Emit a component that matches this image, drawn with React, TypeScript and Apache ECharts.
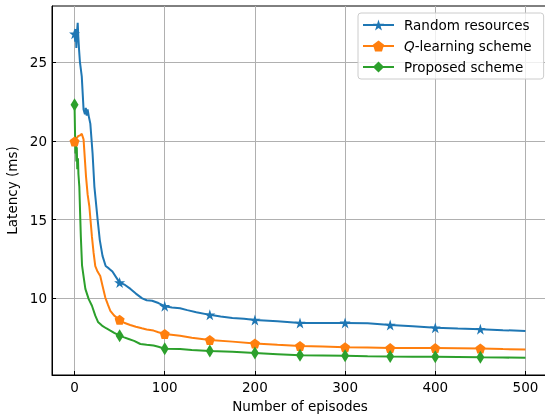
import React, { useEffect, useRef } from "react";
import * as echarts from "echarts";

const randomX = [0, 0.7, 1.3, 2, 2.7, 3.5, 4.2, 5, 6, 8, 10, 11.5, 12.5, 13.5, 14.5, 16, 17.5, 20, 22, 25.6, 28, 31, 34.5, 38, 42, 46, 50, 56, 62, 68, 75, 80, 86, 93, 100, 108, 117, 125, 135, 150, 162, 175, 188, 200, 225, 250, 275, 300, 325, 350, 375, 400, 425, 450, 475, 500];
const randomY = [26.8, 26.3, 27.1, 25.9, 26.9, 27.5, 26.6, 25.8, 25.0, 24.1, 22.0, 21.7, 22.1, 21.6, 22.0, 21.5, 21.1, 19.2, 17.1, 15.0, 13.7, 12.7, 12.05, 11.9, 11.7, 11.35, 11.0, 10.85, 10.6, 10.3, 10.0, 9.88, 9.85, 9.7, 9.5, 9.42, 9.37, 9.25, 9.12, 8.95, 8.85, 8.75, 8.7, 8.62, 8.55, 8.43, 8.43, 8.44, 8.42, 8.3, 8.22, 8.13, 8.08, 8.04, 7.98, 7.93];

const qlearnX = [0, 2, 4, 6, 8, 10, 12.7, 14.5, 16.4, 19.3, 21.1, 23, 25.5, 28.5, 31, 34.1, 37, 39.7, 44, 50, 55, 61.7, 68, 74.6, 80, 87.6, 93, 100, 117, 130, 150, 175, 200, 225, 250, 275, 300, 325, 350, 375, 400, 425, 450, 475, 500];
const qlearnY = [19.96, 20.15, 20.3, 20.35, 20.45, 20.1, 17.75, 16.6, 15.85, 13.9, 12.9, 12.05, 11.7, 11.42, 10.8, 10.05, 9.6, 9.21, 8.9, 8.64, 8.45, 8.31, 8.2, 8.1, 8.02, 7.95, 7.85, 7.74, 7.63, 7.5, 7.36, 7.25, 7.13, 7.05, 6.98, 6.94, 6.9, 6.87, 6.84, 6.84, 6.84, 6.83, 6.82, 6.78, 6.75];

const proposedX = [0, 0.5, 1, 1.5, 2, 2.5, 3, 3.8, 4.3, 5.3, 6.4, 7, 8.3, 10, 12, 15.7, 19.3, 23, 26, 30.4, 35, 39.7, 44, 50, 55, 60, 66, 73, 80, 87.6, 93, 100, 117, 130, 150, 175, 200, 225, 250, 275, 300, 325, 350, 375, 400, 425, 450, 475, 500];
const proposedY = [22.3, 20.6, 19.2, 20.2, 18.7, 19.6, 18.2, 18.9, 17.9, 17.1, 15.0, 13.9, 12.1, 11.4, 10.6, 9.95, 9.53, 8.9, 8.5, 8.27, 8.1, 7.95, 7.8, 7.63, 7.52, 7.42, 7.3, 7.1, 7.05, 7.0, 6.92, 6.8, 6.78, 6.72, 6.66, 6.6, 6.52, 6.45, 6.38, 6.37, 6.35, 6.32, 6.3, 6.29, 6.29, 6.27, 6.25, 6.24, 6.22];

const markerEpisodes = [0, 50, 100, 150, 200, 250, 300, 350, 400, 450];
const xTicks = [0, 100, 200, 300, 400, 500];
const yTicks = [10, 15, 20, 25];
const seriesNames = ["Random resources", "Q-learning scheme", "Proposed scheme"];

const STAR = "path://M0,-100L22.45,-30.9L95.1,-30.9L36.3,11.8L58.8,80.9L0,38.2L-58.8,80.9L-36.3,11.8L-95.1,-30.9L-22.45,-30.9Z";
const PENT = "path://M0,-100L95.1,-30.9L58.8,80.9L-58.8,80.9L-95.1,-30.9Z";

const FONT = "DejaVu Sans";

function build(xs: number[], ys: number[]) {
  return xs.map((x, i) =>
    markerEpisodes.includes(x) ? [x, ys[i]] : { value: [x, ys[i]], symbol: "none" }
  );
}

export default function App() {
  const ref = useRef<HTMLDivElement>(null);
  useEffect(() => {
    if (!ref.current) return;
    const chart = echarts.init(ref.current, undefined, { renderer: "svg" });
    const mkSeries = (name: string, xs: number[], ys: number[], color: string, symbol: string, size: any) => ({
      name,
      type: "line",
      data: build(xs, ys),
      showSymbol: true,
      showAllSymbol: true,
      symbol,
      symbolSize: size,
      symbolKeepAspect: false,
      lineStyle: { color, width: 2 },
      itemStyle: { color, borderWidth: 0 },
      emphasis: { disabled: true },
      silent: true,
    });
    chart.setOption({
      animation: false,
      textStyle: { fontFamily: FONT },
      grid: {
        left: 52,
        top: 6,
        bottom: 41,
        right: -3,
        outerBoundsMode: "none",
        containLabel: false,
        show: true,
        borderColor: "#000",
        borderWidth: 1,
        backgroundColor: "transparent",
      },
      legend: {
        orient: "vertical",
        left: 358,
        top: 13,
        padding: [5, 12, 5, 4],
        itemWidth: 31,
        itemHeight: 14,
        itemGap: 7,
        borderColor: "#cccccc",
        borderWidth: 1,
        borderRadius: 3,
        backgroundColor: "rgba(255,255,255,0.8)",
        data: seriesNames,
        formatter: (n: string) => (n === "Q-learning scheme" ? "{i|Q}-learning scheme" : n),
        textStyle: {
          fontFamily: FONT,
          fontSize: 13.5,
          color: "#000",
          padding: [0, 0, 0, 5],
          rich: {
            i: { fontStyle: "italic", fontFamily: FONT, fontSize: 13.5, color: "#000" },
          },
        },
      },
      xAxis: {
        type: "value",
        min: -25,
        max: 525,
        name: "Number of episodes",
        nameLocation: "middle",
        nameGap: 21,
        nameTextStyle: { fontFamily: FONT, fontSize: 13.5, color: "#000" },
        axisLine: { show: true, onZero: false, lineStyle: { color: "#000", width: 1 } },
        axisTick: { show: true, inside: true, length: 4, customValues: xTicks, lineStyle: { color: "#000" } },
        axisLabel: { customValues: xTicks, margin: 5, color: "#000", fontSize: 13.5, fontFamily: FONT },
        splitLine: { show: true, lineStyle: { color: "#b0b0b0", width: 1 } },
      },
      yAxis: {
        type: "value",
        min: 5.13,
        max: 28.57,
        name: "Latency (ms)",
        nameLocation: "middle",
        nameGap: 31,
        nameTextStyle: { fontFamily: FONT, fontSize: 13.5, color: "#000" },
        axisLine: { show: true, onZero: false, lineStyle: { color: "#000", width: 1 } },
        axisTick: { show: true, inside: true, length: 4, customValues: yTicks, lineStyle: { color: "#000" } },
        axisLabel: { customValues: yTicks, margin: 5, color: "#000", fontSize: 13.5, fontFamily: FONT },
        splitLine: { show: true, lineStyle: { color: "#b0b0b0", width: 1 } },
      },
      series: [
        mkSeries(seriesNames[0], randomX, randomY, "#1f77b4", STAR, [11, 11]),
        mkSeries(seriesNames[1], qlearnX, qlearnY, "#ff7f0e", PENT, [10, 10]),
        mkSeries(seriesNames[2], proposedX, proposedY, "#2ca02c", "diamond", [8, 13]),
      ],
    });
    return () => chart.dispose();
  }, []);
  return <div ref={ref} style={{ position: "fixed", left: 0, top: 0, width: 545, height: 416 }} />;
}
